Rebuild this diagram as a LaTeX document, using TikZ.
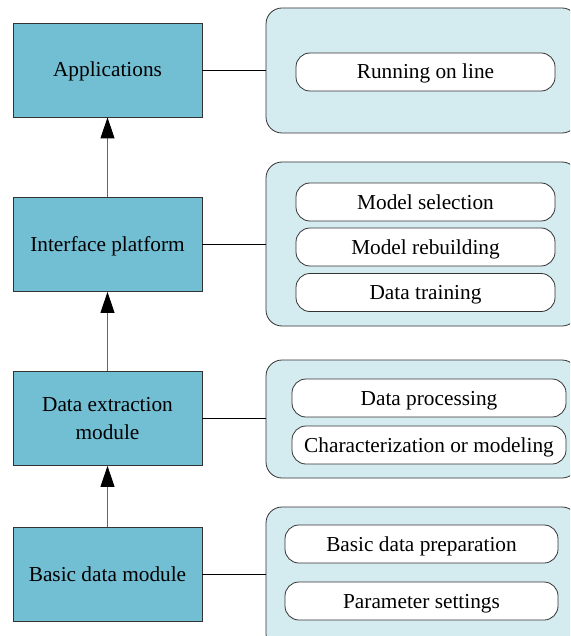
\documentclass[tikz,border=0pt]{standalone}
\usepackage{fontspec}
\setmainfont{Liberation Serif}
\usetikzlibrary{arrows.meta}
\definecolor{modfill}{HTML}{72BED3}
\definecolor{panfill}{HTML}{D4EBF0}
\tikzset{
 oneline/.style={text height=14pt, text depth=0pt},
 modbox/.style={draw=black!80, fill=modfill, line width=0.8pt, minimum width=189pt, minimum height=94pt, inner sep=0pt, align=center, font=\fontsize{21.3}{28}\selectfont},
 panel/.style={draw=black!80, fill=panfill, line width=0.8pt, rounded corners=16pt, inner sep=0pt},
 pill/.style={draw=black!80, fill=white, line width=0.8pt, rounded corners=14pt, minimum height=38pt, inner sep=0pt, oneline, font=\fontsize{21.3}{28}\selectfont},
 link/.style={draw=black, line width=0.8pt},
 uparrow/.style={draw=black!60, line width=1pt, -{Triangle[width=14pt,length=21pt,color=black]}}
}
\begin{document}
\begin{tikzpicture}[x=1pt,y=-1pt]
\useasboundingbox (0,0) rectangle (570,636);
\clip (0,0) rectangle (570,636);
% left modules
\node[modbox, oneline] (app) at (107.5,70) {Applications};
\node[modbox, oneline] (iface) at (107.5,244.5) {Interface platform};
\node[modbox] (dext) at (107.5,418.5) {Data extraction\\module};
\node[modbox, oneline] (basic) at (107.5,574.5) {Basic data module};
% arrows
\draw[uparrow] (iface.north) -- (app.south);
\draw[uparrow] (dext.north) -- (iface.south);
\draw[uparrow] (basic.north) -- (dext.south);
% panels
\node[panel, minimum width=312pt, minimum height=125pt] (p1) at (422,70.5) {};
\node[panel, minimum width=312pt, minimum height=164pt] (p2) at (422,244) {};
\node[panel, minimum width=312pt, minimum height=118pt] (p3) at (422,419) {};
\node[panel, minimum width=312pt, minimum height=143pt] (p4) at (422,578.5) {};
% connectors
\draw[link] (app.east) -- (app.east -| p1.west);
\draw[link] (iface.east) -- (iface.east -| p2.west);
\draw[link] (dext.east) -- (dext.east -| p3.west);
\draw[link] (basic.east) -- (basic.east -| p4.west);
% pills
\node[pill, minimum width=259pt] (run) at (425.5,72) {Running on line};
\node[pill, minimum width=259pt] (msel) at (425.5,202) {Model selection};
\node[pill, minimum width=259pt] (mreb) at (425.5,247) {Model rebuilding};
\node[pill, minimum width=259pt] (dtr) at (425.5,292.5) {Data training};
\node[pill, minimum width=274pt] (dproc) at (429,398) {Data processing};
\node[pill, minimum width=274pt] (charm) at (429,445) {Characterization or modeling};
\node[pill, minimum width=273pt] (bprep) at (421.5,544) {Basic data preparation};
\node[pill, minimum width=273pt] (pset) at (421.5,601) {Parameter settings};
\end{tikzpicture}
\end{document}
